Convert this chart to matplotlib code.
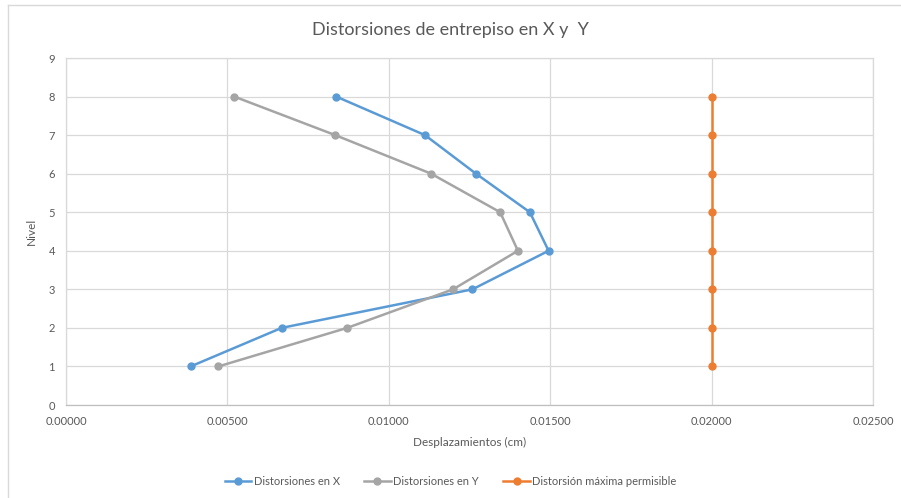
import matplotlib
matplotlib.use("Agg")
import matplotlib.pyplot as plt
from matplotlib.lines import Line2D

plt.rcParams['font.family'] = ['Lato', 'DejaVu Sans']

niveles = [1, 2, 3, 4, 5, 6, 7, 8]
dist_x = [0.00386, 0.00668, 0.01259, 0.01495, 0.01437, 0.01270, 0.01112, 0.00837]
dist_y = [0.00472, 0.00871, 0.01199, 0.01400, 0.01345, 0.01131, 0.00834, 0.00521]
dist_max = [0.02, 0.02, 0.02, 0.02, 0.02, 0.02, 0.02, 0.02]

x_ticks = [0.0, 0.005, 0.010, 0.015, 0.020, 0.025]
y_ticks = [0, 1, 2, 3, 4, 5, 6, 7, 8, 9]

c_x = '#5B9BD5'
c_y = '#A5A5A5'
c_max = '#ED7D31'
text_c = '#595959'

fig = plt.figure(figsize=(9.01, 4.98), dpi=100)
ax = fig.add_axes([66/901, 1-405/498, (873-66)/901, (405-58)/498])

kw = dict(linewidth=1.8, marker='o', markersize=5, zorder=3)
ax.plot(dist_x, niveles, color=c_x, label='Distorsiones en X', **kw)
ax.plot(dist_y, niveles, color=c_y, label='Distorsiones en Y', **kw)
ax.plot(dist_max, niveles, color=c_max, label='Distorsión máxima permisible', **kw)

ax.set_xlim(0, 0.025)
ax.set_ylim(0, 9)
ax.set_xticks(x_ticks)
ax.set_xticklabels([f"{v:.5f}" for v in x_ticks])
ax.set_yticks(y_ticks)
ax.grid(True, color='#D9D9D9', linewidth=0.9, zorder=0)
ax.set_axisbelow(True)
for s in ['top', 'right', 'left', 'bottom']:
    ax.spines[s].set_color('#D9D9D9')
    ax.spines[s].set_linewidth(0.9)
ax.spines['bottom'].set_color('#BFBFBF')
ax.tick_params(length=0, labelsize=8, colors=text_c, pad=8)

ax.set_xlabel('Desplazamientos (cm)', fontsize=8.5, color=text_c, labelpad=7)
ax.set_ylabel('Nivel', fontsize=8.5, color=text_c, labelpad=8)
fig.text(0.5, 1-30/498, 'Distorsiones de entrepiso en X y  Y', ha='center', va='center',
         fontsize=13, color=text_c)

handles, labels = ax.get_legend_handles_labels()
leg = fig.legend(handles, labels, loc='center', bbox_to_anchor=(0.5, 1-481/498), ncol=3,
                 frameon=False, fontsize=8, handlelength=2.4, columnspacing=2.2,
                 handletextpad=0.2, labelcolor=text_c)

# chart frame
fig.add_artist(Line2D([8/901, 1], [1-5.5/498, 1-5.5/498], color='#D9D9D9', linewidth=1,
                      transform=fig.transFigure))
fig.add_artist(Line2D([8/901, 8/901], [0, 1-5.5/498], color='#D9D9D9', linewidth=1,
                      transform=fig.transFigure))

fig.savefig('out.png', dpi=100)
